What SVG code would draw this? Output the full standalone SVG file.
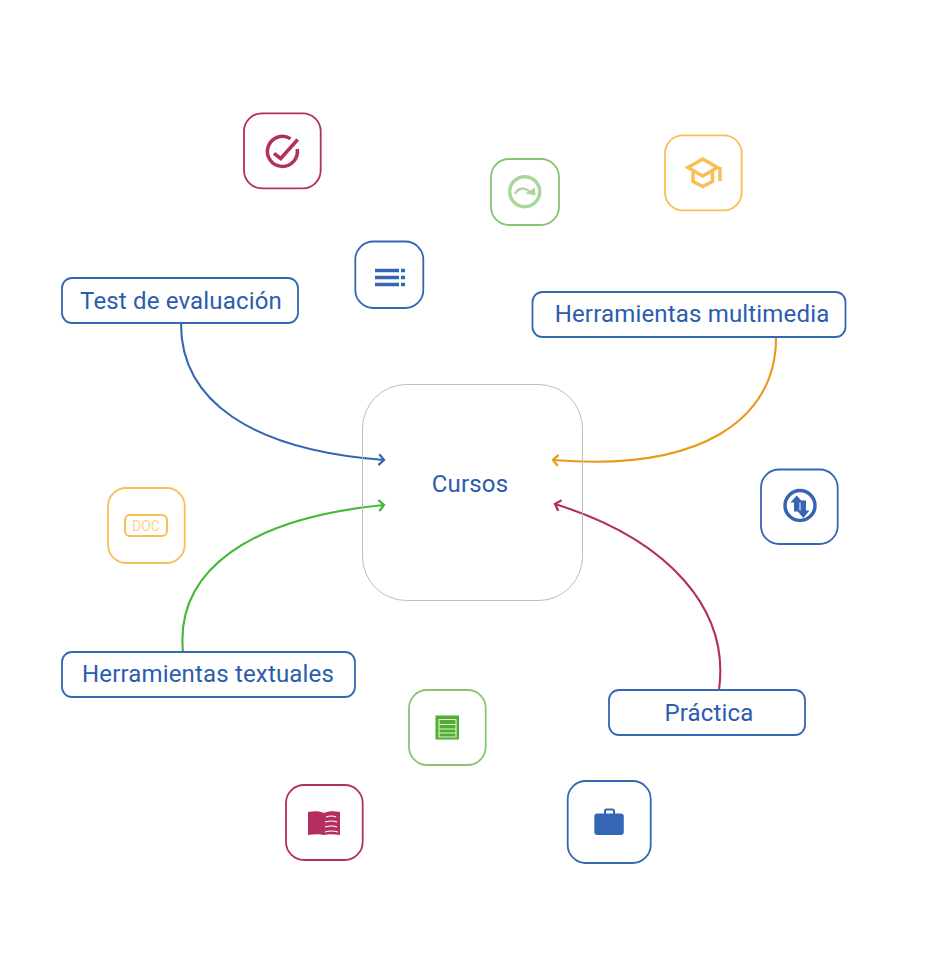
<svg xmlns="http://www.w3.org/2000/svg" width="948" height="980" viewBox="0 0 948 980">
<style>
text{font-family:Roboto,"Liberation Sans",sans-serif;fill:#2b5cad;text-anchor:middle}
.lbl{font-size:24px;letter-spacing:.17px}
.box{fill:#fff;stroke:#3566b3;stroke-width:1.800}
.ic{fill:#fff;stroke-width:1.800}
.blue{stroke:#3566b3}.red{stroke:#b42f60}.yel{stroke:#f9bf55}.grn{stroke:#88c473}
.conn{fill:none;stroke-width:2.100}
</style>
<defs>
<marker id="ab" markerUnits="userSpaceOnUse" markerWidth="12" markerHeight="14" refX="8" refY="7" orient="auto"><path d="M3.500 2.200 8 7 3.500 11.800" fill="none" stroke="#3566b3" stroke-width="2.300" stroke-linecap="round"/></marker>
<marker id="ao" markerUnits="userSpaceOnUse" markerWidth="12" markerHeight="14" refX="8" refY="7" orient="auto"><path d="M3.500 2.200 8 7 3.500 11.800" fill="none" stroke="#e8991a" stroke-width="2.300" stroke-linecap="round"/></marker>
<marker id="ag" markerUnits="userSpaceOnUse" markerWidth="12" markerHeight="14" refX="8" refY="7" orient="auto"><path d="M3.500 2.200 8 7 3.500 11.800" fill="none" stroke="#45b83a" stroke-width="2.300" stroke-linecap="round"/></marker>
<marker id="ar" markerUnits="userSpaceOnUse" markerWidth="12" markerHeight="14" refX="8" refY="7" orient="auto"><path d="M3.500 2.200 8 7 3.500 11.800" fill="none" stroke="#b42f60" stroke-width="2.300" stroke-linecap="round"/></marker>
</defs>
<rect width="948" height="980" fill="#fff"/>
<g id="connectors" class="conn">
<path d="M181 324C181 400 250 450 384 460" stroke="#3566b3" marker-end="url(#ab)"/>
<path d="M776 338C776 420 700 472 553 460" stroke="#e8991a" marker-end="url(#ao)"/>
<path d="M183 652C175 570 250 518 384 505" stroke="#45b83a" marker-end="url(#ag)"/>
<path d="M719 690C730 610 670 540 555 504" stroke="#b42f60" marker-end="url(#ar)"/>
</g>
<g id="cursos"><rect x="362.500" y="384.500" width="220" height="216" rx="44" fill="none" stroke="#bdbdbd" stroke-width="1"/><text x="470" y="492" class="lbl">Cursos</text></g>
<g id="test"><rect class="box" x="62" y="278" width="236" height="45" rx="10"/><text x="181" y="309" class="lbl">Test de evaluación</text></g>
<g id="multimedia"><rect class="box" x="532.500" y="292" width="313" height="45" rx="10"/><text x="692" y="322" class="lbl">Herramientas multimedia</text></g>
<g id="textuales"><rect class="box" x="62" y="652" width="293" height="45" rx="10"/><text x="208" y="682" class="lbl">Herramientas textuales</text></g>
<g id="practica"><rect class="box" x="609" y="690" width="196" height="45" rx="10"/><text x="709" y="721" class="lbl">Práctica</text></g>
<g id="icon-check"><rect class="ic red" x="244" y="113.300" width="76.700" height="75" rx="18"/><path d="M290.500 138.800A15 15 0 1 0 297.200 149" fill="none" stroke="#b42f60" stroke-width="3.500"/><path d="M274 153.300 280.700 158.500 297.700 139.500" fill="none" stroke="#b42f60" stroke-width="3.500"/></g>
<g id="icon-refresh"><rect class="ic grn" x="491" y="159" width="68" height="66" rx="18"/><circle cx="524.700" cy="191.700" r="15" fill="none" stroke="#abd69b" stroke-width="3.500"/><path d="M515 194C518 188 524 187 529 191" fill="none" stroke="#abd69b" stroke-width="2.300"/><path d="M525.500 193.500 535.500 195.500 534.800 187.500Z" fill="#abd69b"/></g>
<g id="icon-grad"><rect class="ic yel" x="665" y="135.300" width="76.700" height="75" rx="18"/><path d="M688 167.500 702.700 159 717.500 167.500 702.700 176Z" fill="none" stroke="#f9bf55" stroke-width="3.500"/><path d="M693 172V181.500L702.700 186.500 712.500 181.500V172" fill="none" stroke="#f9bf55" stroke-width="3.500"/><path d="M720 167V181" stroke="#f9bf55" stroke-width="3.500"/></g>
<g id="icon-list"><rect class="ic blue" x="355.300" y="241.500" width="68" height="66.500" rx="18"/><path d="M375 270.500H399M375 277.500H399M375 284.500H399" stroke="#3566b3" stroke-width="3.500"/><path d="M401 270.500H405M401 277.500H405M401 284.500H405" stroke="#3566b3" stroke-width="3.500"/></g>
<g id="icon-swap"><rect class="ic blue" x="761" y="469.500" width="76.700" height="74.500" rx="18"/><circle cx="800" cy="505.500" r="15" fill="none" stroke="#3566b3" stroke-width="3.500"/><path d="M796.700 495.500 790.500 502.500H794V511.500H799.500V502.500H803Z" fill="#3566b3"/><path d="M803.300 518 797 510.500H800.500V500.500H806V510.500H809.500Z" fill="#3566b3"/></g>
<g id="icon-doc"><rect class="ic yel" x="108" y="488" width="76.700" height="75" rx="18"/><rect x="125" y="515" width="42" height="21" rx="5" fill="none" stroke="#f9bf55" stroke-width="2"/><text x="146" y="531" font-size="14" style="fill:#fbd48c">DOC</text></g>
<g id="icon-receipt"><rect class="ic grn" x="409" y="690" width="76.700" height="75" rx="18"/><rect x="435.500" y="715.500" width="23.500" height="24" fill="#52ae30"/><path d="M439 719.500H456V737H439ZM439 724.500H456M439 729H456M439 733H456" fill="none" stroke="#dff0d8" stroke-width="1.100"/></g>
<g id="icon-book"><rect class="ic red" x="286" y="785" width="76.700" height="75" rx="18"/><path d="M308 812C314 811 320 811 324 813 328 811 334 811 340 812V835C334 834 328 834 324 835 320 834 314 834 308 835Z" fill="#b42f60"/><path d="M326 817Q332 815 336 817M325 822Q332 820 337 822M325 827Q332 825 337 827M325 832Q332 830 338 832" fill="none" stroke="#fff" stroke-width="1.200"/></g>
<g id="icon-case"><rect class="ic blue" x="567.700" y="781" width="83" height="82" rx="18"/><rect x="594.300" y="813.500" width="29.500" height="21.500" rx="3" fill="#3566b3"/><rect x="605" y="809.500" width="9" height="7" rx="1.500" fill="none" stroke="#3566b3" stroke-width="2"/></g>
</svg>
